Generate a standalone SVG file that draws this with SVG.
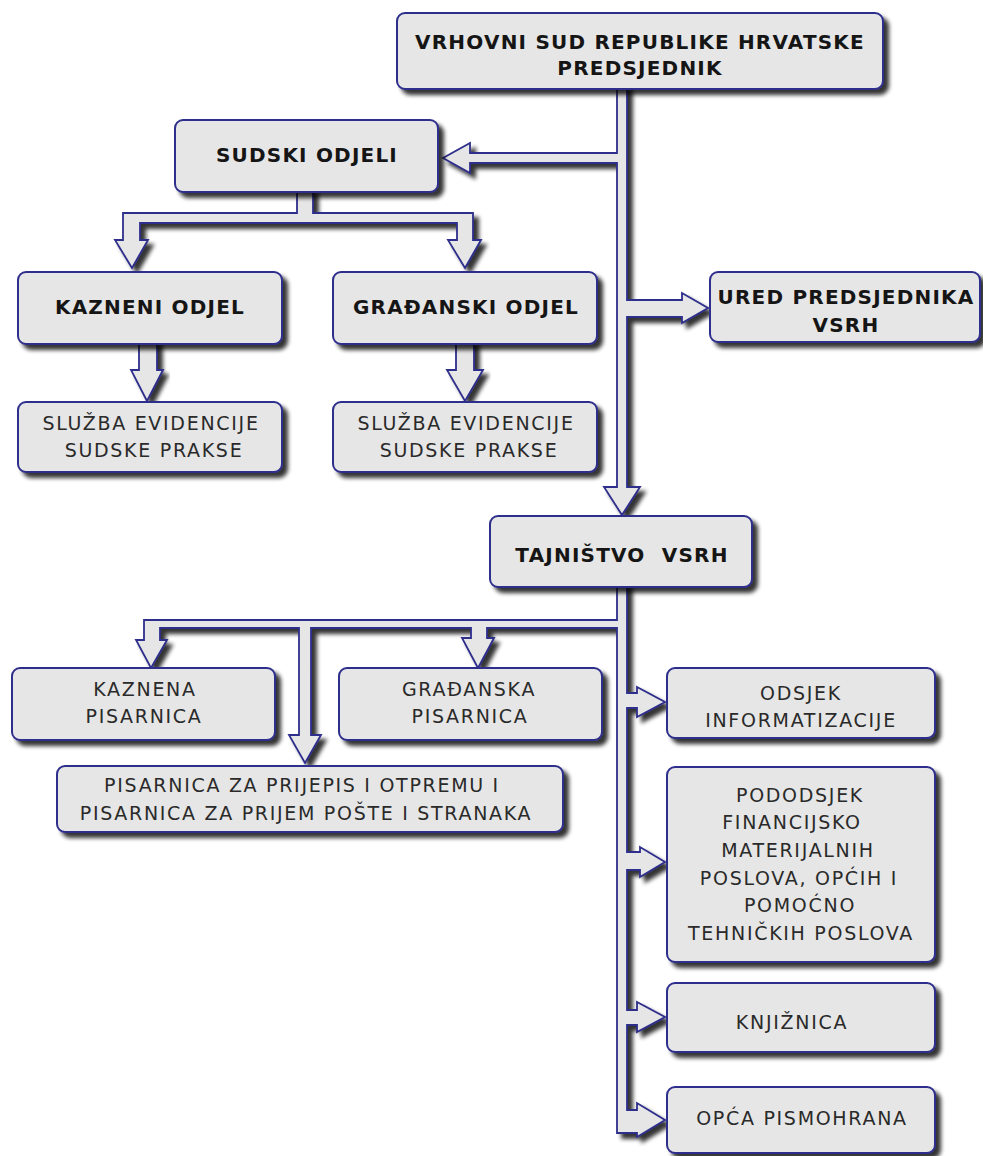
<svg xmlns="http://www.w3.org/2000/svg" width="983" height="1156" viewBox="0 0 983 1156">
<defs>
<filter id="sh" x="-10%" y="-10%" width="130%" height="140%">
<feGaussianBlur in="SourceAlpha" stdDeviation="2.2"/>
<feOffset dx="5" dy="5"/>
<feComponentTransfer><feFuncA type="linear" slope="0.8"/></feComponentTransfer>
<feMerge><feMergeNode/><feMergeNode in="SourceGraphic"/></feMerge>
</filter>
<style>
.box{fill:#e6e6e6;stroke:#2e2e8c;stroke-width:2;filter:url(#sh)}
.con{fill:#e6e6e6;stroke:#2e2e8c;stroke-width:1.8;stroke-linejoin:miter;filter:url(#sh)}
.b{font-family:"DejaVu Sans","Verdana",sans-serif;font-weight:bold;font-size:20px;letter-spacing:1.2px;fill:#151515;text-anchor:middle}
.t{font-family:"DejaVu Sans","Verdana",sans-serif;font-size:19px;letter-spacing:1.7px;fill:#2a2a2a;text-anchor:middle}
</style>
</defs>
<rect width="983" height="1156" fill="#ffffff"/>
<g id="connectors">
<polygon class="con" points="617,85 617,153 470,153 470,143 443,158 470,173 470,163 617,163 617,487 604,487 622,515 640,487 627,487 627,317 682,317 682,323 708,308 682,293 682,300 627,300 627,85"/>
<polygon class="con" points="297,188 297,213 123,213 123,240 115,240 132,268 148,240 140,240 140,223 457,223 457,240 448,240 465,268 481,240 473,240 473,213 313,213 313,188"/>
<polygon class="con" points="139,340 139,370 131,370 147,401 163,370 157,370 157,340"/>
<polygon class="con" points="456,340 456,370 447,370 465,401 483,370 474,370 474,340"/>
<polygon class="con" points="617,583 617,620 144,620 144,640 136,640 151,668 167,640 160,640 160,628 299,628 299,735 289,735 305,763 321,735 311,735 311,628 471,628 471,638 462,638 478,668 494,638 487,638 487,628 617,628 617,1133 637,1133 637,1137 665,1120 637,1103 637,1110 627,1110 627,1025 637,1025 637,1032 665,1017 637,1002 637,1010 627,1010 627,870 640,870 640,877 665,862 640,847 640,852 627,852 627,708 637,708 637,717 665,702 637,687 637,693 627,693 627,583"/>
</g>
<g id="n-vrhovni"><rect class="box" x="397" y="13" width="486" height="76" rx="8"/>
<text class="b" x="640" y="49">VRHOVNI SUD REPUBLIKE HRVATSKE</text>
<text class="b" x="640" y="75">PREDSJEDNIK</text></g>
<g id="n-sudski"><rect class="box" x="175" y="120" width="263" height="72" rx="8"/>
<text class="b" x="307" y="162">SUDSKI ODJELI</text></g>
<g id="n-ured"><rect class="box" x="710" y="272" width="270" height="70" rx="8"/>
<text class="b" x="846" y="304">URED PREDSJEDNIKA</text>
<text class="b" x="846" y="332">VSRH</text></g>
<g id="n-kazneni"><rect class="box" x="18" y="272" width="264" height="72" rx="8"/>
<text class="b" x="150" y="314">KAZNENI ODJEL</text></g>
<g id="n-gradjanski"><rect class="box" x="333" y="272" width="264" height="72" rx="8"/>
<text class="b" x="466" y="314">GRAĐANSKI ODJEL</text></g>
<g id="n-sluzba1"><rect class="box" x="18" y="402" width="264" height="70" rx="8"/>
<text class="t" x="151" y="430">SLUŽBA EVIDENCIJE</text>
<text class="t" x="154" y="457">SUDSKE PRAKSE</text></g>
<g id="n-sluzba2"><rect class="box" x="333" y="402" width="264" height="70" rx="8"/>
<text class="t" x="466" y="430">SLUŽBA EVIDENCIJE</text>
<text class="t" x="469" y="457">SUDSKE PRAKSE</text></g>
<g id="n-tajnistvo"><rect class="box" x="490" y="516" width="262" height="71" rx="8"/>
<text class="b" x="622" y="562" xml:space="preserve">TAJNIŠTVO  VSRH</text></g>
<g id="n-kaznena"><rect class="box" x="12" y="668" width="263" height="72" rx="8"/>
<text class="t" x="145" y="696">KAZNENA</text>
<text class="t" x="144" y="723">PISARNICA</text></g>
<g id="n-gradjanska"><rect class="box" x="339" y="668" width="263" height="72" rx="8"/>
<text class="t" x="469" y="696">GRAĐANSKA</text>
<text class="t" x="470" y="723">PISARNICA</text></g>
<g id="n-prijepis"><rect class="box" x="57" y="766" width="506" height="66" rx="8"/>
<text class="t" x="302" y="792">PISARNICA ZA PRIJEPIS I OTPREMU I</text>
<text class="t" x="306" y="820">PISARNICA ZA PRIJEM POŠTE I STRANAKA</text></g>
<g id="n-odsjek"><rect class="box" x="667" y="668" width="268" height="70" rx="8"/>
<text class="t" x="801" y="700">ODSJEK</text>
<text class="t" x="801" y="727">INFORMATIZACIJE</text></g>
<g id="n-pododsjek"><rect class="box" x="667" y="767" width="268" height="195" rx="8"/>
<text class="t" x="800" y="802">PODODSJEK</text>
<text class="t" x="792" y="829">FINANCIJSKO</text>
<text class="t" x="798" y="857">MATERIJALNIH</text>
<text class="t" x="799" y="885">POSLOVA, OPĆIH I</text>
<text class="t" x="800" y="912">POMOĆNO</text>
<text class="t" x="801" y="940">TEHNIČKIH POSLOVA</text></g>
<g id="n-knjiznica"><rect class="box" x="667" y="983" width="268" height="69" rx="8"/>
<text class="t" x="792" y="1029">KNJIŽNICA</text></g>
<g id="n-opca"><rect class="box" x="667" y="1087" width="268" height="66" rx="8"/>
<text class="t" x="802" y="1125">OPĆA PISMOHRANA</text></g>
</svg>
